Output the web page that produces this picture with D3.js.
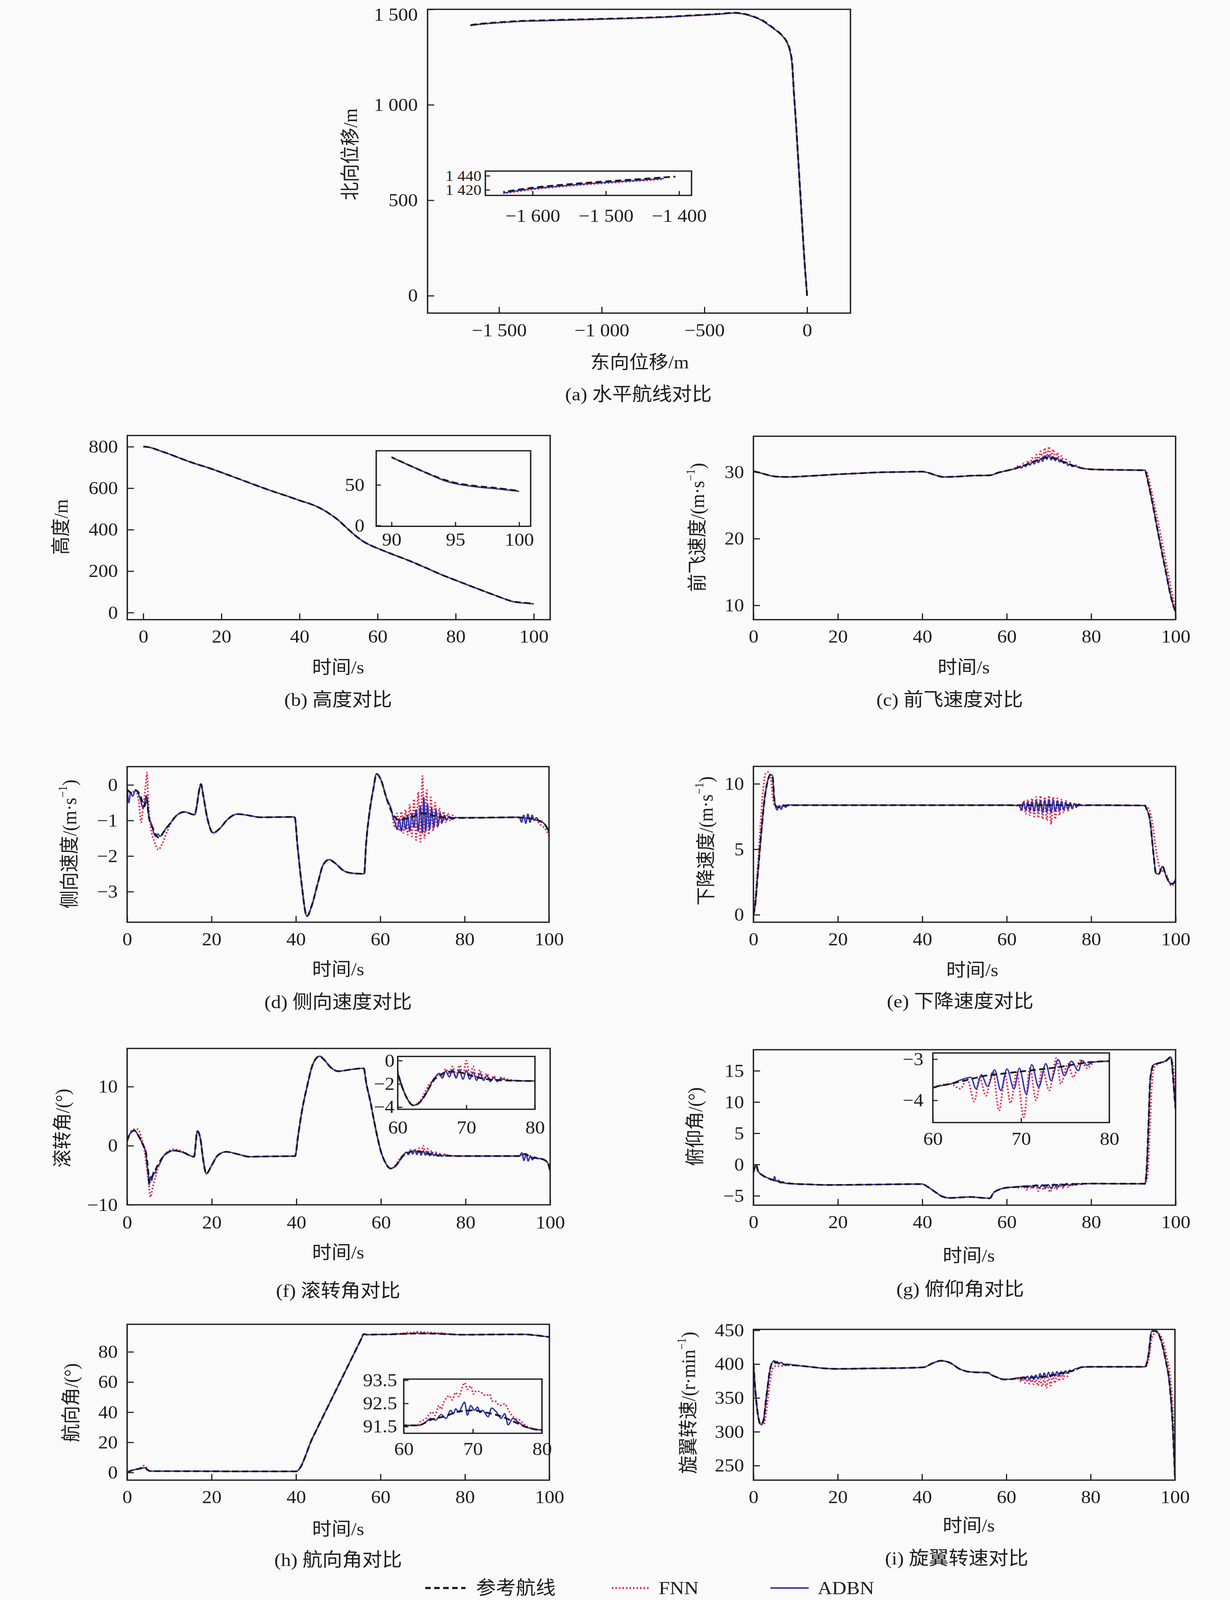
<!DOCTYPE html>
<html><head><meta charset="utf-8">
<script src="https://cdn.jsdelivr.net/npm/d3@7"></script>
<style>html,body{margin:0;padding:0;overflow:hidden;background:#fafafa}svg{display:block}</style>
</head><body>
<svg id="c" viewBox="0 0 3150 4405" preserveAspectRatio="none"></svg>
<script>
// ---------------- DATA ----------------
// (a) horizontal track [East, North]
const aRef = [[0,0],[-8,110],[-15,220],[-23,360],[-31,500],[-39,640],[-47,780],[-55,920],[-64,1060],[-70,1170],[-74,1230],[-82,1280],[-96,1325],[-120,1362],[-154,1394],[-190,1422],[-219,1443],[-260,1462],[-301,1475],[-350,1482],[-430,1476],[-514,1471],[-600,1466],[-678,1461],[-800,1456],[-1000,1450],[-1200,1445],[-1300,1442],[-1400,1439],[-1450,1435.5],[-1500,1432],[-1550,1428],[-1600,1423],[-1640,1417]];
const aAdbn = [[0,0],[-8,110],[-15,220],[-23,360],[-31,500],[-39,640],[-47,780],[-55,920],[-64,1060],[-70,1170],[-75,1230],[-83,1280],[-97,1325],[-121,1362],[-155,1393],[-191,1421],[-220,1442],[-261,1461],[-302,1474],[-350,1481],[-430,1475],[-514,1470],[-600,1465],[-678,1460],[-800,1455],[-1000,1449],[-1200,1443.5],[-1300,1440.5],[-1400,1437.5],[-1450,1434],[-1500,1430.5],[-1550,1426.5],[-1600,1421.5],[-1640,1415.5]];
const aFnn = [[0,0],[-8,110],[-16,220],[-24,360],[-32,500],[-40,640],[-48,780],[-56,920],[-65,1060],[-71,1170],[-75,1230],[-83,1280],[-97,1324],[-121,1361],[-155,1392],[-191,1420],[-220,1441],[-261,1460],[-302,1473],[-350,1480],[-430,1474],[-514,1469],[-600,1464],[-678,1459],[-800,1454],[-1000,1448],[-1200,1442.5],[-1300,1439.5],[-1400,1436.5],[-1450,1433],[-1500,1429.5],[-1550,1425.5],[-1600,1420.5],[-1640,1414.5]];
const aXTicks = [-1500,-1000,-500,0], aYTicks = [0,500,1000,1500];
const aInXTicks = [-1600,-1500,-1400], aInYTicks = [1420,1440];

// (b) altitude [t, m]
const bRef = [[0,800],[0.5,800],[1,799],[2,795],[4,782],[6,769],[9.5,744],[13,720],[16.4,700],[20,676],[25,641],[30,606],[33.6,582],[37,561],[40,541],[42.5,526],[44.8,508],[46.5,491],[48.2,470],[50,445],[51.6,417],[53,393],[54.2,373],[55.5,354],[56.8,338],[58.5,322],[60,310],[64,280],[68,251],[72,219],[76.6,181],[80,156],[85.2,118],[88,98],[90,84],[91.4,74],[92.7,65],[94,57],[95,52.5],[96.7,48.5],[98.3,46],[100,42.5]];
const bAdbnDev = [[[94,56],[95,51.5],[96.7,47.5],[98.3,45],[100,42]]];
const bFnnDev = [[[94,56.5],[95,52],[96.7,47.8],[98.3,45.5],[100,42.2]]];
const bYTicks = [0,200,400,600,800], bInXTicks = [90,95,100], bInYTicks = [0,50];

// (c) forward speed [t, m/s]
const cRef = [[0,30.1],[2,29.8],[4,29.45],[6,29.28],[8,29.25],[12,29.35],[16,29.5],[20,29.65],[25,29.8],[30,29.95],[35,30.0],[40,30.05],[41,29.95],[43,29.55],[45,29.25],[48,29.3],[52,29.45],[56,29.5],[58,29.9],[60,30.2],[62,30.5],[64,30.95],[66,31.45],[68,31.95],[70,32.2],[72,31.85],[74,31.35],[76,30.9],[78,30.55],[80,30.4],[84,30.33],[88,30.3],[92.7,30.25],[93.5,28.4],[94.4,25.7],[95.6,21.7],[96.9,17.5],[97.7,15.0],[98.5,12.4],[99.3,10.3],[100,9.0]];
const cAdbnDev = [[[62,30.5],[63,30.8],[63.5,30.6],[64,31.0],[64.5,30.8],[65,31.3],[65.5,31.0],[66,31.5],[66.5,31.2],[67,31.8],[67.5,31.4],[68,32.0],[68.5,31.6],[69,32.4],[69.5,31.9],[70,32.5],[70.5,31.8],[71,32.3],[71.5,31.7],[72,32.1],[72.5,31.5],[73,31.8],[73.5,31.3],[74,31.5],[74.5,31.0],[75,31.2],[75.5,30.8],[76,30.9],[77,30.7]]];
const cFnnDev = [[[62,30.6],[63,31.0],[63.5,30.6],[64,31.3],[64.5,30.8],[65,31.7],[65.5,31.1],[66,32.1],[66.5,31.4],[67,32.6],[67.5,31.7],[68,33.1],[68.5,32.0],[69,33.6],[69.5,32.3],[70,33.8],[70.5,32.2],[71,33.4],[71.5,31.9],[72,32.9],[72.5,31.6],[73,32.4],[73.5,31.3],[74,31.9],[74.5,31.0],[75,31.5],[75.5,30.8],[76,31.1],[77,30.8]],
  [[93,30.2],[94,28.0],[95,25.0],[96,22.0],[97,18.8],[98,15.5],[99,12.3],[100,9.3]]];
const cYTicks = [10,20,30];

// (d) lateral speed [t, m/s]
const dRef = [[0,-0.13],[1,-0.22],[2,-0.15],[3,-0.27],[4.1,-0.6],[4.6,-0.38],[5.1,-0.86],[6.1,-1.22],[7.5,-1.48],[8.8,-1.3],[10.2,-1.08],[11.9,-0.84],[13.6,-0.76],[16,-0.84],[16.5,-0.6],[17,-0.2],[17.5,0.02],[18,-0.27],[19,-0.93],[20.4,-1.35],[22,-1.22],[23.8,-0.97],[26.2,-0.82],[28.9,-0.86],[31.6,-0.91],[39.7,-0.9],[40.4,-1.73],[41.4,-2.83],[42.6,-3.69],[43.8,-3.38],[45.2,-2.76],[46.5,-2.24],[47.9,-2.1],[49.3,-2.2],[51.3,-2.41],[53.3,-2.48],[56.2,-2.5],[56.6,-1.73],[57.4,-0.82],[58.4,-0.09],[59.1,0.31],[60.1,0.16],[61.5,-0.38],[62.8,-0.78],[64.2,-0.97],[66,-0.95],[68,-0.88],[70,-0.8],[72,-0.85],[74,-0.9],[77.8,-0.93],[85,-0.92],[92.4,-0.91],[94,-0.93],[96,-0.95],[97.5,-1.0],[98.8,-1.08],[99.5,-1.2],[100,-1.33]];
const dAdbnDev = [[[0,-0.1],[0.4,-0.5],[0.8,-0.22],[1.3,-0.32],[2,-0.15],[3,-0.35],[3.8,-0.65],[4.6,-0.3],[5.2,-0.95],[5.8,-1.1],[6.3,-1.35],[6.8,-1.45],[7.3,-1.38],[7.8,-1.45],[8.5,-1.35],[9.2,-1.22]],
  [[63,-0.9],[63.5,-1.05],[64,-1.25],[64.5,-0.95],[65,-1.3],[65.5,-0.9],[66,-1.25],[66.5,-0.85],[67,-1.3],[67.5,-0.8],[68,-1.2],[68.5,-0.7],[69,-1.3],[69.5,-0.6],[70,-1.35],[70.3,-0.35],[70.8,-1.3],[71.2,-0.55],[71.7,-1.25],[72.2,-0.65],[72.7,-1.2],[73.2,-0.7],[73.7,-1.15],[74.2,-0.8],[74.7,-1.05],[75.2,-0.85],[75.7,-1.0],[76.3,-0.88],[77,-0.97],[78,-0.92]],
  [[93,-0.92],[93.5,-1.05],[94,-0.85],[94.5,-1.08],[95,-0.82],[95.5,-1.05],[96,-0.85],[96.5,-1.0],[97,-0.92]]];
const dFnnDev = [[[2,-0.15],[2.8,-0.5],[3.3,-1.05],[3.8,-0.6],[4.4,0.0],[4.7,0.35],[5.0,-0.4],[5.6,-1.2],[6.5,-1.6],[7.4,-1.82],[8.3,-1.65],[9.5,-1.3],[11,-0.95],[13,-0.78]],
  [[63,-0.95],[63.5,-1.2],[64,-0.8],[64.5,-1.3],[65,-0.75],[65.5,-1.35],[66,-0.7],[66.5,-1.4],[67,-0.55],[67.5,-1.45],[68,-0.4],[68.5,-1.55],[69,-0.2],[69.5,-1.6],[70,0.25],[70.5,-1.5],[71,-0.15],[71.5,-1.4],[72,-0.35],[72.5,-1.3],[73,-0.5],[73.5,-1.2],[74,-0.65],[74.5,-1.1],[75,-0.75],[75.5,-1.05],[76,-0.8],[76.5,-1.0],[77,-0.85],[78,-0.92]],
  [[97,-1.0],[98,-1.12],[99,-1.22],[100,-1.42]]];
const dYTicks = [-3,-2,-1,0];

// (e) descent speed [t, m/s]
const eRef = [[0,0],[0.4,0.7],[1.07,3.25],[1.9,6.43],[2.7,8.98],[3.4,10.25],[4.0,10.7],[4.5,10.64],[4.9,8.98],[5.2,8.34],[6,8.2],[7.3,8.34],[9.3,8.37],[20,8.37],[40,8.37],[60,8.37],[80,8.37],[92.7,8.34],[93.1,8.1],[94,7.07],[94.4,5.8],[94.8,4.52],[95.4,3.12],[96,3.12],[96.9,3.69],[97.7,3.0],[98.9,2.36],[99.5,2.4],[100,2.74]];
const eAdbnDev = [[[5.2,8.34],[5.6,8.0],[6.1,8.35],[6.6,8.05],[7.1,8.4],[7.6,8.2],[8.2,8.4],[9.3,8.37]],
  [[63,8.35],[63.5,8.0],[64,8.6],[64.5,8.0],[65,8.6],[65.5,7.95],[66,8.65],[66.5,7.9],[67,8.7],[67.5,7.9],[68,8.7],[68.5,7.8],[69,8.75],[69.5,7.85],[70,8.8],[70.5,7.8],[71,8.75],[71.5,7.9],[72,8.7],[72.5,7.95],[73,8.65],[73.5,8.0],[74,8.6],[74.5,8.05],[75,8.55],[75.5,8.1],[76,8.5],[76.5,8.2],[77,8.45],[78,8.35]]];
const eFnnDev = [[[0,0],[0.5,1.5],[1.2,4.5],[1.8,7.5],[2.4,9.8],[2.9,10.8],[3.4,10.9],[4.0,10.6],[4.6,9.0],[5.0,8.3]],
  [[63,8.3],[63.5,7.9],[64,8.7],[64.5,7.7],[65,8.8],[65.5,7.6],[66,8.9],[66.5,7.5],[67,9.0],[67.5,7.4],[68,9.1],[68.5,7.3],[69,9.0],[69.5,7.2],[70,9.1],[70.5,6.9],[71,9.0],[71.5,7.3],[72,8.9],[72.5,7.6],[73,8.8],[73.5,7.8],[74,8.7],[74.5,7.95],[75,8.6],[75.5,8.1],[76,8.5],[77,8.35]],
  [[93,8.3],[93.8,8.0],[94.5,7.0],[95,5.8],[95.6,4.5],[96.3,3.5],[97,3.3],[97.6,3.2],[98.4,2.6],[99,2.2],[99.5,2.3],[100,2.6]]];
const eYTicks = [0,5,10];

// (f) roll angle [t, deg]
const fRef = [[0,0.82],[0.7,2.06],[1.7,2.58],[2.7,1.65],[3.7,0.2],[4.4,-1.03],[5,-4.5],[5.2,-6.2],[6.1,-4.95],[7.1,-3.5],[8.5,-1.86],[9.9,-1.03],[11.2,-0.82],[13.2,-1.13],[15.8,-1.86],[16.6,2.47],[17.3,1.24],[18,-2.47],[18.7,-4.74],[20,-3.3],[21.4,-1.65],[23.4,-1.03],[26.2,-1.44],[28.9,-1.86],[33,-1.81],[39.7,-1.75],[40.4,1.65],[41.4,6.19],[42.5,9.9],[43.8,13.6],[45.5,15.15],[46.5,14.6],[48.2,13.2],[49.9,12.6],[52,12.8],[54,13.0],[55.9,13.1],[56.6,10.3],[57.4,7.8],[58.4,4.1],[59.3,1.0],[60,-1.0],[61,-2.8],[62.3,-3.85],[63.2,-3.6],[64,-2.95],[64.8,-2.1],[65.5,-1.5],[66.3,-1.2],[67.5,-0.95],[69,-1.0],[71,-1.35],[73,-1.6],[75.4,-1.7],[79,-1.75],[92.7,-1.75],[94.1,-1.4],[95.5,-2.0],[97.5,-2.16],[98.8,-2.47],[99.5,-3.0],[100,-4.33]];
const fAdbnDev = [[[4.6,-2.5],[5.0,-5.0],[5.2,-6.6],[5.5,-5.2],[5.8,-5.9],[6.2,-4.5],[6.6,-4.7],[7.0,-3.6],[7.5,-3.3],[8.0,-2.6]],
  [[65,-1.8],[65.5,-1.4],[66,-1.1],[66.5,-1.5],[67,-0.9],[67.5,-1.4],[68,-0.8],[68.5,-1.5],[69,-0.8],[69.5,-1.6],[70,-0.85],[70.5,-1.6],[71,-1.0],[71.5,-1.7],[72,-1.1],[72.5,-1.7],[73,-1.3],[73.5,-1.8],[74,-1.45],[74.5,-1.8],[75,-1.55],[76,-1.7]],
  [[92.7,-1.75],[93.3,-1.2],[93.8,-2.5],[94.3,-1.4],[94.8,-2.6],[95.3,-1.7],[95.8,-2.4],[96.3,-1.9],[97,-2.2]]];
const fFnnDev = [[[1.5,2.8],[2.5,2.8],[3.3,1.5],[4.0,-0.5],[4.6,-3.5],[5.2,-7.0],[5.5,-8.7],[6.0,-7.2],[6.8,-5.0],[7.6,-3.2],[8.5,-1.9],[9.6,-1.0],[10.8,-0.6],[12,-0.7],[13.2,-1.0]],
  [[63.2,-3.5],[64,-2.7],[64.5,-2.1],[65,-1.8],[65.5,-1.6],[66,-1.1],[66.5,-1.3],[67,-0.7],[67.5,-1.2],[68,-0.5],[68.5,-1.3],[69,-0.4],[69.5,-1.2],[70,0.0],[70.5,-1.3],[71,-0.5],[71.5,-1.5],[72,-0.8],[72.5,-1.6],[73,-1.1],[73.5,-1.7],[74,-1.3],[74.5,-1.75],[75,-1.45],[76,-1.6],[77,-1.7]]];
const fYTicks = [-10,0,10], fInYTicks = [-4,-2,0];

// (g) pitch angle [t, deg]
const gRef = [[0,-1.25],[0.66,-0.05],[1.07,-1.0],[2.3,-1.79],[3.55,-2.19],[5.2,-2.6],[6.85,-2.86],[9.3,-3.07],[13.5,-3.18],[16.8,-3.26],[20,-3.26],[28.3,-3.2],[39.9,-3.12],[41.5,-3.66],[43.2,-4.46],[44.8,-5.13],[46.5,-5.34],[49,-5.26],[51.4,-5.18],[53.9,-5.31],[56,-5.39],[56.8,-4.59],[58.5,-3.93],[60,-3.7],[62,-3.6],[64,-3.5],[66,-3.4],[68,-3.35],[70,-3.3],[72,-3.25],[74,-3.2],[76,-3.13],[78,-3.07],[80,-3.05],[92.7,-3.07],[93.1,-1.25],[93.6,6.75],[94,13.7],[94.8,15.97],[96,16.23],[97.7,16.6],[98.9,17.2],[99.3,14.8],[99.75,10.8],[100,8.9]];
const gAdbnDev = [[[4.2,-2.45],[4.8,-2.3],[5.0,-1.92],[5.4,-2.7],[5.9,-2.5],[6.4,-2.95],[6.9,-2.75],[7.5,-3.0]],
  [[63.1,-3.51],[64.3,-3.44],[64.9,-3.72],[65.5,-3.38],[66.2,-3.66],[67,-3.26],[67.7,-3.76],[68.4,-3.24],[69.2,-3.72],[69.8,-3.22],[70.6,-3.85],[71.2,-3.13],[72,-3.68],[72.8,-3.11],[73.4,-3.52],[74.2,-3.01],[74.9,-3.4],[75.7,-3.05],[76.5,-3.28],[76.9,-3.03],[77.5,-3.15],[78.1,-3.07]]];
const gFnnDev = [[[63.1,-3.72],[63.9,-3.48],[64.7,-4.03],[65.3,-3.44],[66,-3.89],[66.8,-3.3],[67.5,-4.25],[68.2,-3.4],[68.8,-4.07],[69.5,-3.32],[70.3,-4.41],[71,-3.22],[71.7,-4.0],[72.4,-3.24],[73.2,-3.76],[74,-2.97],[74.5,-3.6],[75.3,-3.11],[75.9,-3.44],[76.7,-3.03],[77.5,-3.22],[78.3,-3.07]],
  [[92.7,-3.1],[93.3,-2.0],[93.8,4.0],[94.3,12.0],[94.9,15.5],[96,16.1],[97.7,16.5],[98.8,17.0],[99.4,16.0],[99.8,12.0],[100,9.5]]];
const gYTicks = [-5,0,5,10,15], gInYTicks = [-4,-3];

// (h) heading angle [t, deg]
const hRef = [[0,0],[1,1.3],[3,2.6],[4.2,3.2],[4.8,1.8],[5.4,0.9],[11,0.9],[27,0.75],[40,0.75],[44,23.5],[48,46.3],[52,69],[55.6,89.5],[56,91.8],[56.8,91.4],[60,91.55],[62,91.55],[64,91.8],[66,91.95],[68,92.15],[70,92.2],[72,92.1],[74,91.95],[76,91.7],[78,91.45],[80,91.35],[86,91.5],[93.8,91.6],[96.2,91.1],[100,89.8]];
const hAdbnDev = [[[62.2,91.55],[63.2,91.7],[63.9,91.85],[64.6,91.78],[65.4,92.02],[66.1,91.85],[66.8,92.2],[67.2,92.05],[67.5,92.27],[68.0,92.12],[68.3,92.3],[68.8,92.55],[69.2,91.99],[69.7,92.41],[70.2,92.2],[70.7,92.34],[71.0,92.1],[71.4,92.2],[72.2,91.92],[72.7,92.3],[73.4,92.13],[74.1,91.85],[74.6,92.06],[75.1,91.57],[75.8,91.85],[76.5,91.71],[77.3,91.54],[78.2,91.43],[80,91.36]]];
const hFnnDev = [[[3,2.8],[4,4.6],[4.5,3.6],[5.3,1.0]],
  [[62.2,91.64],[63.2,91.85],[64.1,92.13],[64.5,91.98],[65.1,92.41],[65.4,92.25],[65.8,92.55],[66.6,92.83],[67.0,92.65],[67.5,92.97],[68.0,92.8],[68.3,93.04],[68.8,93.39],[69.2,93.1],[69.7,93.25],[70.1,92.9],[70.5,93.04],[71.2,92.97],[71.9,92.83],[72.4,92.9],[72.8,92.6],[73.1,92.62],[73.9,92.41],[74.6,92.48],[75.3,92.13],[76.1,91.85],[76.8,91.78],[77.5,91.57],[78.5,91.43],[80,91.35]]];
const hYTicks = [0,20,40,60,80], hInYTicks = [91.5,92.5,93.5];

// (i) rotor speed [t, r/min]
const iRef = [[0,401],[0.4,365],[1.1,324],[1.7,311],[2.3,314.7],[3.1,353],[4,393.7],[4.8,404.5],[5.6,402],[6.9,399.7],[10.2,398],[13.5,396],[16.8,393.7],[20.1,393],[28.4,393.7],[36.6,394.4],[40.4,395.4],[42.4,401],[44.5,405],[46.6,402],[49,392.5],[51.5,388.4],[55.7,387.2],[56.5,384],[58,380],[59.4,377.4],[61.5,378],[63.1,379.8],[66.4,380.5],[69.7,382.2],[73,386.5],[76.3,391.3],[78,395.6],[80.5,396],[92.9,396],[93.7,412.9],[94.5,448.8],[95.5,448.8],[96.6,436.8],[97.8,405.7],[98.7,372],[99.5,305],[100,233]];
const iAdbnDev = [[[4.8,404.5],[5.2,401],[5.6,404],[6.1,400.5],[6.6,402.5],[7.2,399.5],[8,400]],
  [[63,380],[63.5,377],[64,381],[64.5,378],[65,382],[65.5,377],[66,383],[66.5,377],[67,384],[67.5,378],[68,386],[68.5,379],[69,387],[69.5,380],[70,388],[70.5,381],[71,388],[71.5,382],[72,389],[72.5,383],[73,389],[73.5,385],[74,390],[74.5,387],[75,391],[75.5,389],[76,392],[77,394]]];
const iFnnDev = [[[1.7,311],[2.4,310],[3.0,328],[3.8,368],[4.6,394],[5.4,397.5],[6.2,397],[7,397.5],[8,398]],
  [[63,378],[63.5,374],[64,379],[64.5,372],[65,378],[65.5,371],[66,377],[66.5,370],[67,377],[67.5,368],[68,378],[68.5,367],[69,379],[69.5,365],[70,381],[70.5,368],[71,383],[71.5,372],[72,385],[72.5,375],[73,387],[73.5,378],[74,389],[74.5,382],[75,390],[76,391]],
  [[93.7,405],[94.6,440],[95.6,447],[96.8,440],[98,412],[98.9,380],[99.6,320],[100,250]]];
const iYTicks = [250,300,350,400,450];

const timeTicks = [0,20,40,60,80,100];
const insetTimeTicks = [60,70,80];
const legendLabels = ['参考航线','FNN','ADBN'];

// ---------------- RENDER ----------------
// design space is the reference size; the viewBox maps it onto the real viewport
const W = 3150, H = 4405;
const FONT = "'Liberation Serif','Times New Roman','Noto Sans CJK SC',serif";
const INK = '#1c1c1c';
const svg = d3.select('#c')
  .attr('width', window.innerWidth || W)
  .attr('height', window.innerHeight || H);
const defs = svg.append('defs');
svg.append('rect').attr('width', W).attr('height', H).attr('fill', '#fafafa');

const STYLE = {
  fnn:  {stroke: '#e0284f', width: 4.4, dash: '4,5'},
  adbn: {stroke: '#3333b0', width: 3.6, dash: null},
  ref:  {stroke: '#1a1a1a', width: 4.8, dash: '16,9'}
};

function merge(ref, segs) {
  if (!segs || !segs.length) return ref.slice();
  const ranges = segs.map(s => [s[0][0], s[s.length - 1][0]]);
  const keep = ref.filter(p => !ranges.some(r => p[0] >= r[0] && p[0] <= r[1]));
  return keep.concat(...segs).sort((a, b) => a[0] - b[0]);
}
function fmt(v) {
  const neg = v < 0;
  let s = String(Math.abs(v));
  if (Math.abs(v) >= 1000) s = s.replace(/\B(?=(\d{3})+(?!\d))/g, ' ');
  return (neg ? '\u2212' : '') + s;
}
let clipN = 0;
function plotArea(g, c, isInset) {
  const [x0, y0, x1, y1] = c.box;
  const xs = d3.scaleLinear().domain(c.x).range([x0, x1]);
  const ys = d3.scaleLinear().domain(c.y).range([y1, y0]);
  if (isInset) g.append('rect').attr('x', x0).attr('y', y0).attr('width', x1 - x0).attr('height', y1 - y0).attr('fill', '#fafafa');
  ['fnn', 'adbn', 'ref'].forEach(k => {
    const id = 'clip' + (clipN++);
    let cx0 = x0, cx1 = x1;
    if (c.clipX && c.clipX[k]) {
      cx0 = Math.max(x0, xs(c.clipX[k][0]));
      cx1 = Math.min(x1, xs(c.clipX[k][1]));
    }
    defs.append('clipPath').attr('id', id).append('rect')
      .attr('x', cx0).attr('y', y0).attr('width', cx1 - cx0).attr('height', y1 - y0);
    const line = d3.line().x(d => xs(d[0])).y(d => ys(d[1])).curve(c.curve);
    const st = STYLE[k];
    g.append('path').attr('d', line(c.series[k])).attr('clip-path', `url(#${id})`)
      .attr('fill', 'none').attr('stroke', st.stroke).attr('stroke-width', st.width)
      .attr('stroke-dasharray', st.dash).attr('stroke-linejoin', 'round');
  });
  g.append('rect').attr('x', x0).attr('y', y0).attr('width', x1 - x0).attr('height', y1 - y0)
    .attr('fill', 'none').attr('stroke', INK).attr('stroke-width', 3.5);
  const tl = isInset ? 12 : 17;
  const ax = d3.axisBottom(xs).tickValues(c.xt).tickFormat(fmt).tickSize(-tl).tickPadding(c.xlOff - 19);
  const gx = g.append('g').attr('transform', `translate(0,${y1})`).call(ax);
  const ay = d3.axisLeft(ys).tickValues(c.yt).tickFormat(fmt).tickSize(-tl).tickPadding(c.ylGap);
  const gy = g.append('g').attr('transform', `translate(${x0},0)`).call(ay);
  [gx, gy].forEach(a => {
    a.select('.domain').remove();
    a.selectAll('line').attr('stroke', INK).attr('stroke-width', 3);
    a.selectAll('text').attr('font-family', FONT).attr('font-size', 50).attr('fill', INK);
  });
  if (c.yTickFont) gy.selectAll('text').attr('font-size', c.yTickFont);
  // keep a label that sits right on the top edge of the page inside the picture
  gy.selectAll('.tick text').each(function () {
    const ty = ys(+d3.select(this.parentNode).datum());
    if (ty < 40) d3.select(this).attr('dy', '0.62em');
  });
}
function addText(x, y, str, size, rotate) {
  const t = svg.append('text')
    .attr('transform', `translate(${x},${y})` + (rotate ? ' rotate(-90)' : ''))
    .attr('text-anchor', 'middle').attr('dominant-baseline', 'central')
    .attr('font-family', FONT).attr('font-size', size).attr('fill', INK);
  if (Array.isArray(str)) {
    t.append('tspan').text(str[0]);
    t.append('tspan').attr('baseline-shift', 'super').attr('font-size', size * 0.62).text(str[1]);
    t.append('tspan').text(str[2]);
  } else t.text(str);
}

const curveT = d3.curveMonotoneX;
const panels = [
  {box:[1095,25.7,2178,862], x:[-1848,211], y:[-91,1500], xt:aXTicks, yt:aYTicks, curve:d3.curveCatmullRom.alpha(0.5),
   series:{ref:aRef, fnn:aFnn, adbn:aAdbn}, xlOff:47, ylGap:25,
   ylab:'北向位移/m', yl:[897,425], xlab:'东向位移/m', xl:[1638,997], cap:'(a) 水平航线对比', cp:[1635,1085],
   inset:{box:[1243,471,1771,538], x:[-1664.5,-1383], y:[1412,1446.7], xt:aInXTicks, yt:aInYTicks, ylGap:10, xlOff:56, yTickFont:41,
          clipX:{ref:[-2000,-1405], fnn:[-2000,-1421], adbn:[-2000,-1421]}}},
  {box:[326,1199,1409,1706], x:[-4.1,104.2], y:[-34,854], xt:timeTicks, yt:bYTicks, curve:curveT,
   series:{ref:bRef, fnn:merge(bRef,bFnnDev), adbn:merge(bRef,bAdbnDev)}, xlOff:47, ylGap:24,
   ylab:'高度/m', yl:[156,1451], xlab:'时间/s', xl:[866,1837], cap:'(b) 高度对比', cp:[866,1926],
   inset:{box:[963.5,1241,1359,1449], x:[88.8,100.9], y:[-1,92], xt:bInXTicks, yt:bInYTicks, ylGap:30, xlOff:37,
          clipX:{ref:[90,101], fnn:[90,101], adbn:[90,101]}}},
  {box:[1929.5,1201,3010.7,1706], x:[0,100], y:[7.85,35.36], xt:timeTicks, yt:cYTicks, curve:curveT,
   series:{ref:cRef, fnn:merge(cRef,cFnnDev), adbn:merge(cRef,cAdbnDev)}, xlOff:47, ylGap:24,
   ylab:['前飞速度/(m·s','\u22121',')'], yl:[1785,1452], xlab:'时间/s', xl:[2468,1837], cap:'(c) 前飞速度对比', cp:[2432,1926]},
  {box:[325.6,2110.6,1406,2539], x:[0,100], y:[-3.86,0.514], xt:timeTicks, yt:dYTicks, curve:curveT,
   series:{ref:dRef, fnn:merge(dRef,dFnnDev), adbn:merge(dRef,dAdbnDev)}, xlOff:47, ylGap:24,
   ylab:['侧向速度/(m·s','\u22121',')'], yl:[177,2324], xlab:'时间/s', xl:[866,2668], cap:'(d) 侧向速度对比', cp:[866,2759]},
  {box:[1929.5,2110,3010.7,2539], x:[0,100], y:[-0.57,11.33], xt:timeTicks, yt:eYTicks, curve:curveT,
   series:{ref:eRef, fnn:merge(eRef,eFnnDev), adbn:merge(eRef,eAdbnDev)}, xlOff:47, ylGap:24,
   ylab:['下降速度/(m·s','\u22121',')'], yl:[1807,2315], xlab:'时间/s', xl:[2490,2670], cap:'(e) 下降速度对比', cp:[2459,2757]},
  {box:[325.6,2886.5,1409,3317], x:[0,100], y:[-10,16.46], xt:timeTicks, yt:fYTicks, curve:curveT,
   series:{ref:fRef, fnn:merge(fRef,fFnnDev), adbn:merge(fRef,fAdbnDev)}, xlOff:49, ylGap:24,
   ylab:'滚转角/(°)', yl:[160,3106], xlab:'时间/s', xl:[866,3448], cap:'(f) 滚转角对比', cp:[866,3553],
   inset:{box:[1018.6,2908.5,1370,3054], x:[60,80], y:[-4.19,0.36], xt:insetTimeTicks, yt:fInYTicks, ylGap:8, xlOff:50}},
  {box:[1929.5,2890,3010.7,3318], x:[0,100], y:[-6.5,18.37], xt:timeTicks, yt:gYTicks, curve:curveT,
   series:{ref:gRef, fnn:merge(gRef,gFnnDev), adbn:merge(gRef,gAdbnDev)}, xlOff:47, ylGap:24,
   ylab:'俯仰角/(°)', yl:[1780,3102], xlab:'时间/s', xl:[2481,3457], cap:'(g) 俯仰角对比', cp:[2459,3549],
   inset:{box:[2389,2899,2841,3090.5], x:[60,80], y:[-4.54,-2.85], xt:insetTimeTicks, yt:gInYTicks, ylGap:24, xlOff:45}},
  {box:[325.6,3646,1407,4075], x:[0,100], y:[-5.06,98.25], xt:timeTicks, yt:hYTicks, curve:curveT,
   series:{ref:hRef, fnn:merge(hRef,hFnnDev), adbn:merge(hRef,hAdbnDev)}, xlOff:47, ylGap:24,
   ylab:'航向角/(°)', yl:[182,3862], xlab:'时间/s', xl:[866,4209], cap:'(h) 航向角对比', cp:[866,4294],
   inset:{box:[1034,3796.8,1388,3946], x:[60,80], y:[91.21,93.55], xt:insetTimeTicks, yt:hInYTicks, ylGap:17, xlOff:44}},
  {box:[1929.5,3660,3009,4075], x:[0,100], y:[228.5,451.3], xt:timeTicks, yt:iYTicks, curve:curveT,
   series:{ref:iRef, fnn:merge(iRef,iFnnDev), adbn:merge(iRef,iAdbnDev)}, xlOff:47, ylGap:24,
   ylab:['旋翼转速/(r·min','\u22121',')'], yl:[1762,3862], xlab:'时间/s', xl:[2481,4200], cap:'(i) 旋翼转速对比', cp:[2450,4290]}
];

panels.forEach(p => {
  const g = svg.append('g');
  plotArea(g, p, false);
  if (p.inset) plotArea(g, Object.assign({series: p.series, curve: p.curve}, p.inset), true);
  addText(p.yl[0], p.yl[1], p.ylab, 50, true);
  addText(p.xl[0], p.xl[1], p.xlab, 50, false);
  addText(p.cp[0], p.cp[1], p.cap, 51, false);
});

// legend
const legY = 4372;
const legItems = [
  {k:'ref', x1:1089, x2:1192, tx:1219},
  {k:'fnn', x1:1567, x2:1661, tx:1687},
  {k:'adbn', x1:1973, x2:2071, tx:2094}
];
legItems.forEach((it, i) => {
  const st = STYLE[it.k];
  svg.append('line').attr('x1', it.x1).attr('x2', it.x2).attr('y1', legY).attr('y2', legY)
    .attr('stroke', st.stroke).attr('stroke-width', it.k === 'ref' ? 6 : st.width + 0.8)
    .attr('stroke-dasharray', it.k === 'ref' ? '14,9' : st.dash);
  svg.append('text').attr('x', it.tx).attr('y', legY).attr('dominant-baseline', 'central')
    .attr('font-family', FONT).attr('font-size', 51).attr('fill', INK).text(legendLabels[i]);
});
</script>
</body></html>
